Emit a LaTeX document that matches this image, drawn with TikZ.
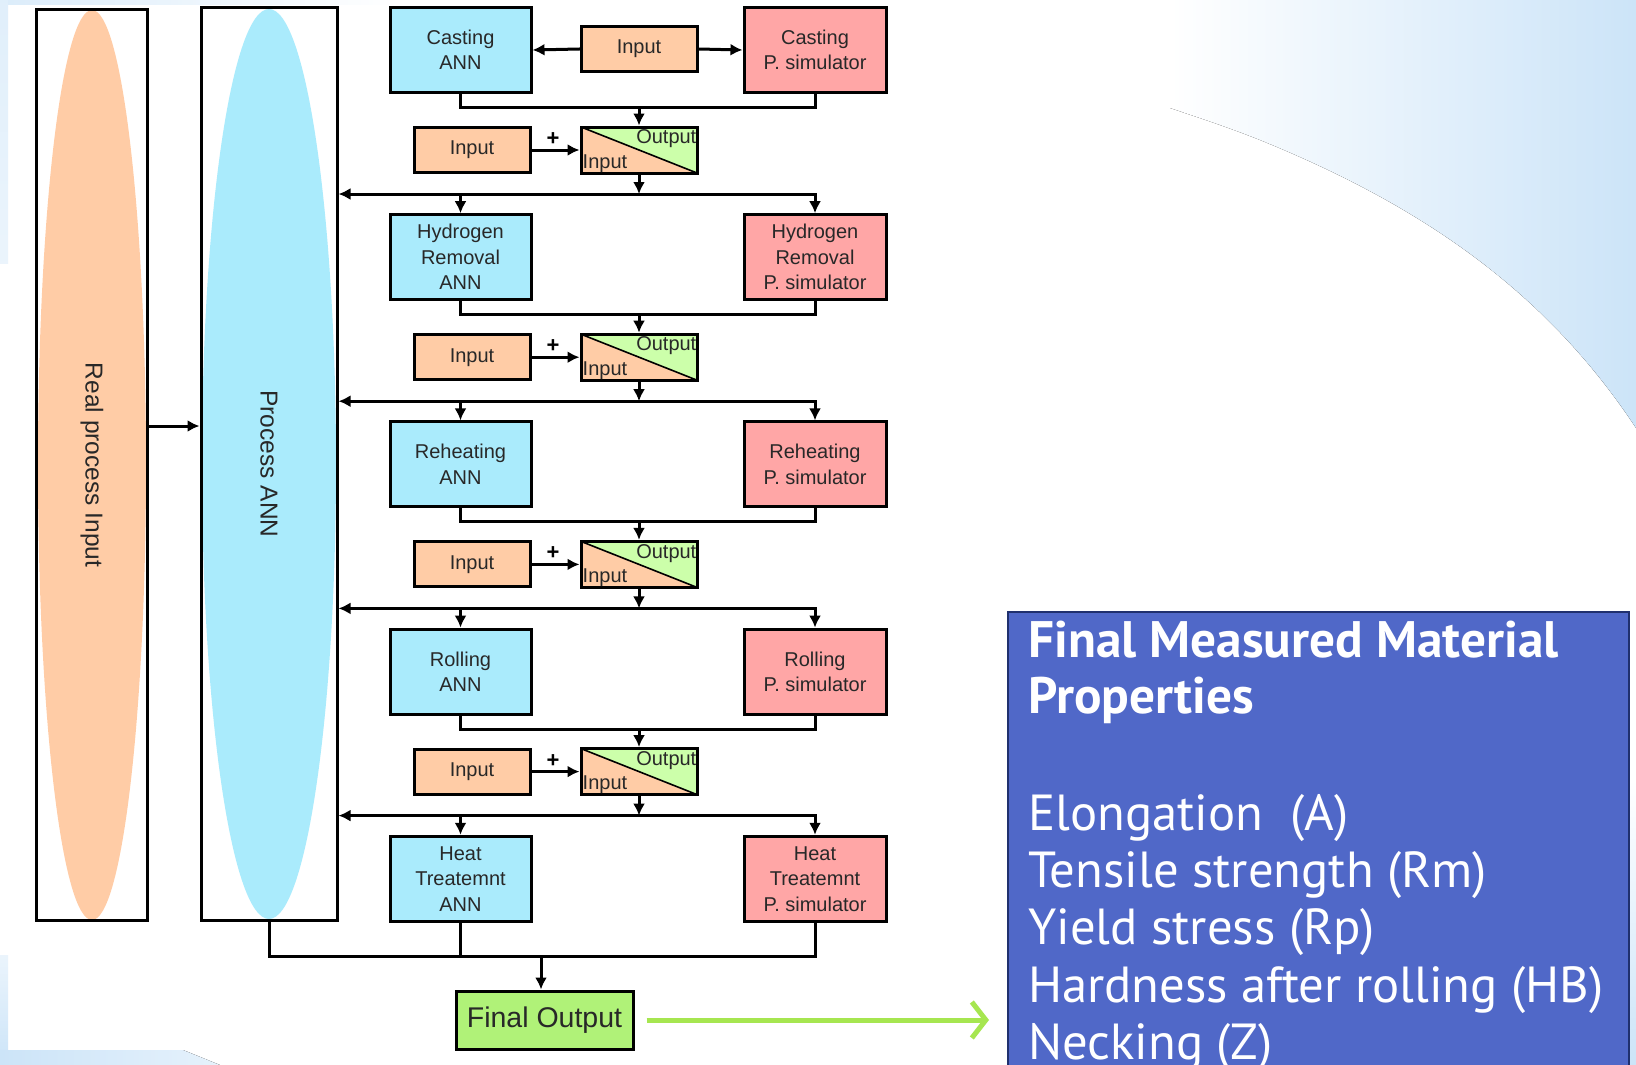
\documentclass[tikz,border=0pt]{standalone}
\usepackage{fontspec}
\setmainfont{Liberation Sans}
\newfontfamily\propfont{PT Sans}
\usetikzlibrary{arrows.meta,calc}

\definecolor{annblue}{RGB}{170,235,252}
\definecolor{simpink}{RGB}{255,166,166}
\definecolor{inpeach}{RGB}{255,204,166}
\definecolor{sumgreen}{RGB}{204,255,170}
\definecolor{finalgreen}{RGB}{176,242,120}
\definecolor{arrowgreen}{RGB}{166,230,80}
\definecolor{propblue}{RGB}{80,104,200}
\definecolor{propborder}{RGB}{32,48,110}
\definecolor{bgblue}{RGB}{204,228,248}
\definecolor{txt}{RGB}{40,40,40}

\begin{document}
\begin{tikzpicture}[x=1pt,y=-1pt,
  box/.style={draw=black, line width=3pt, inner sep=0pt, align=center,
              font=\fontsize{20}{25.5}\selectfont, text=txt},
  annbox/.style={box, fill=annblue, minimum width=141pt, minimum height=85pt},
  simbox/.style={box, fill=simpink, minimum width=142pt, minimum height=85pt},
  inbox/.style={box, fill=inpeach, minimum width=116pt, minimum height=45pt},
  sumbox/.style={box, fill=inpeach, minimum width=116pt, minimum height=46pt,
    path picture={
      \fill[sumgreen] (path picture bounding box.north west) --
        (path picture bounding box.north east) --
        (path picture bounding box.south east) -- cycle;
      \draw[line width=1.6pt] (path picture bounding box.north west) --
        (path picture bounding box.south east);}},
  sumlabel/.style={inner sep=0pt, font=\fontsize{20}{22}\selectfont, text=txt},
  sidelabel/.style={rotate=-90, font=\fontsize{24.5}{26}\selectfont, text=txt},
  link/.style={line width=3pt, black, line cap=rect},
  arr/.style={link, -{Latex[length=12pt,width=12pt]}},
  proptext/.style={anchor=base west, text=white, inner sep=0pt,
                   font=\propfont\fontsize{50.7}{57}\selectfont},
  proptitle/.style={proptext, font=\propfont\bfseries\fontsize{51.3}{57}\selectfont},
]
\useasboundingbox (0,0) rectangle (1636,1065);
\clip (0,0) rectangle (1636,1065);

% slide background
\fill[white] (0,0) rectangle (1636,1065);
\fill[left color=white, right color=bgblue]
  (1170,0) -- (1636,0) -- (1636,428)
  .. controls (1545,290) and (1420,205) .. (1260,140)
  .. controls (1230,128) and (1200,118) .. (1170,108) -- cycle;
\fill[left color=bgblue!70, right color=white] (0,0) rectangle (400,5);
\fill[top color=bgblue!60, bottom color=bgblue!40] (0,0) rectangle (8,263);
\fill[top color=bgblue!40, bottom color=bgblue] (0,955) rectangle (8,1065);
\fill[left color=bgblue, right color=bgblue!50]
  (0,1050) -- (183,1050) -- (220,1065) -- (0,1065) -- cycle;
\fill[top color=white, bottom color=bgblue] (1590,780) rectangle (1636,1065);

% left-hand columns
\node[box, minimum width=110.5pt, minimum height=910pt,
  path picture={\fill[inpeach] (path picture bounding box.center)
    ellipse [x radius=54, y radius=455];}] (real) at (92,465) {};
\node[sidelabel] at (real.center) {Real process Input};
\node[box, minimum width=136pt, minimum height=912pt,
  path picture={\fill[annblue] (path picture bounding box.center)
    ellipse [x radius=67, y radius=455];}] (proc) at (269,464) {};
\node[sidelabel] at (proc.center) {Process ANN};
\coordinate (rp) at (0,426);
\draw[arr] (real.east |- rp) -- (proc.west |- rp);

% process stages
\node[annbox] (ann0) at (460.5,50)    {Casting\\ANN};
\node[simbox] (sim0) at (815,50)      {Casting\\P. simulator};
\node[annbox] (ann1) at (460.5,257.2) {Hydrogen\\Removal\\ANN};
\node[simbox] (sim1) at (815,257.2)   {Hydrogen\\Removal\\P. simulator};
\node[annbox] (ann2) at (460.5,464.4) {Reheating\\ANN};
\node[simbox] (sim2) at (815,464.4)   {Reheating\\P. simulator};
\node[annbox] (ann3) at (460.5,671.6) {Rolling\\ANN};
\node[simbox] (sim3) at (815,671.6)   {Rolling\\P. simulator};
\node[annbox] (ann4) at (460.5,878.8) {Heat\\Treatemnt\\ANN};
\node[simbox] (sim4) at (815,878.8)   {Heat\\Treatemnt\\P. simulator};

% first input feeds both casting models
\node[inbox] (in0) at (639,49) {Input};
\draw[arr] (in0.west) -- (ann0.east);
\draw[arr] (in0.east) -- (sim0.west);

% summing stage between consecutive processes
\foreach \i [evaluate=\i as \y using 50+207.2*\i] in {0,...,3} {
  \pgfmathtruncatemacro\n{\i+1}
  \node[inbox] (inp\i) at (472,\y+100) {Input};
  \node[sumbox] (sum\i) at (639,\y+100) {};
  \node[sumlabel, anchor=north east] at ($(sum\i.north east)+(-2,4)$) {Output};
  \node[sumlabel, anchor=south west] at ($(sum\i.south west)+(3,-2)$) {Input};
  \coordinate (j\i) at (639,\y+57.5);
  \coordinate (b\i) at (639,\y+144);
  \draw[link] (ann\i.south) -- (ann\i.south |- j\i) -- (sim\i.south |- j\i) -- (sim\i.south);
  \draw[arr] (j\i) -- (sum\i.north);
  \draw[arr] (inp\i.east) -- (sum\i.west)
    node[pos=0.45, above=3pt, inner sep=0pt, font=\bfseries\fontsize{22}{22}\selectfont] {+};
  \draw[arr] (sum\i.south) -- (b\i);
  \draw[arr] (sim\n.north |- b\i) -- (proc.east |- b\i);
  \draw[arr] (ann\n.north |- b\i) -- (ann\n.north);
  \draw[arr] (sim\n.north |- b\i) -- (sim\n.north);
}

% final output
\node[box, fill=finalgreen, minimum width=177pt, minimum height=58pt,
  font=\fontsize{28.5}{30}\selectfont] (final) at (544.5,1020) {Final Output};
\coordinate (bt) at (541,956);
\draw[link] (proc.south) -- (proc.south |- bt) -- (sim4.south |- bt) -- (sim4.south);
\draw[link] (ann4.south) -- (ann4.south |- bt);
\draw[arr] (bt) -- (bt |- final.north);

% measured properties panel
\node[draw=propborder, line width=2pt, fill=propblue, anchor=north west,
  minimum width=621pt, minimum height=470pt, inner sep=0pt] (props) at (1007,611) {};
\node[proptitle] (t1) at (1028,657) {Final Measured Material};
\node[proptitle] (t2) at (1028,713) {Properties};
\node[proptext] (p1) at (1028,830) {Elongation\ \ (A)};
\node[proptext] (p2) at (1028,887) {Tensile strength (Rm)};
\node[proptext] (p3) at (1028,944) {Yield stress (Rp)};
\node[proptext] (p4) at (1028,1002) {Hardness after rolling (HB)};
\node[proptext] (p5) at (1028,1059) {Necking (Z)};

\draw[line width=5pt, arrowgreen, shorten <=12pt, shorten >=18pt,
  -{Straight Barb[length=14pt,width=36pt]}] (final.east) -- (final.east -| props.west);
\end{tikzpicture}
\end{document}
